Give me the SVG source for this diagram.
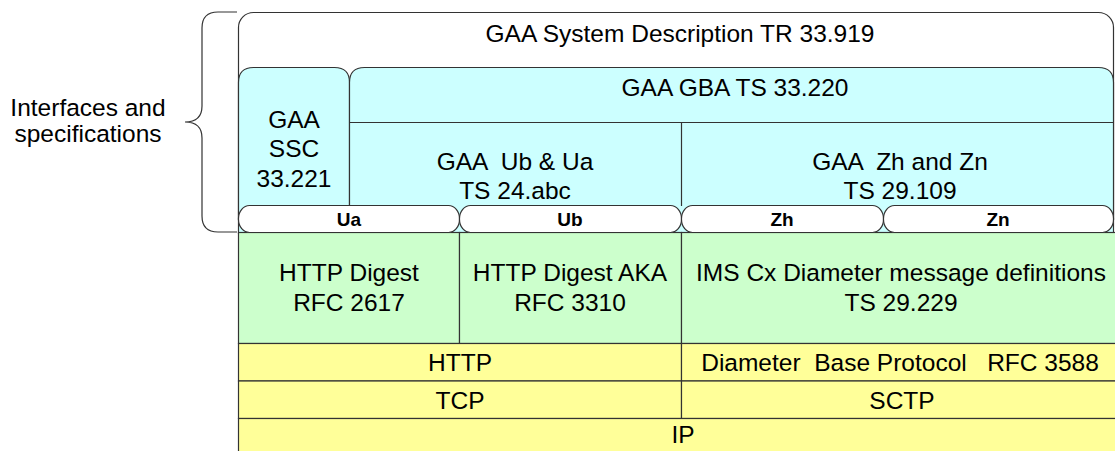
<svg xmlns="http://www.w3.org/2000/svg" width="1115" height="451" viewBox="0 0 1115 451">
<style>
.t{font-family:"Liberation Sans",Arial,sans-serif;font-size:24.5px;fill:#000;text-anchor:middle;white-space:pre}
.p{font-family:"Liberation Sans",Arial,sans-serif;font-size:19px;font-weight:bold;fill:#000;text-anchor:middle}
.s{stroke:#333;stroke-width:1.2}
.cy{fill:#CCFFFF}
.gr{fill:#CCFFCC}
.ye{fill:#FFFF99}
.pill{fill:#FFFFFF;stroke:#333;stroke-width:1.2}
</style>
<rect width="1115" height="451" fill="#FFFFFF"/>
<g id="brace">
<path d="M237,12 H218 Q202,12 202,28 V106 Q202,122 185,122 Q202,122 202,138 V216 Q202,232 218,232 H237" fill="none" stroke="#333" stroke-width="1.2"/>
<text class="t" x="88" y="116">Interfaces and</text>
<text class="t" x="88" y="142">specifications</text>
</g>
<g id="system-description">
<rect class="s" x="238.5" y="12.5" width="875" height="222" rx="15" ry="15" fill="#FFFFFF"/>
<text class="t" x="680" y="42">GAA System Description TR 33.919</text>
</g>
<g id="ssc">
<path class="s cy" d="M238.5,234 V82.5 Q238.5,67.5 253.5,67.5 H334.5 Q349.5,67.5 349.5,82.5 V234"/>
<text class="t" x="294" y="128">GAA</text>
<text class="t" x="294" y="157">SSC</text>
<text class="t" x="294" y="187">33.221</text>
</g>
<g id="gba">
<path class="s cy" d="M349.5,234 V82.5 Q349.5,67.5 364.5,67.5 H1098.5 Q1113.5,67.5 1113.5,82.5 V234"/>
<text class="t" x="735" y="96">GAA GBA TS 33.220</text>
</g>
<g id="ub-ua">
<text class="t" x="515" y="170" xml:space="preserve">GAA  Ub &amp; Ua</text>
<text class="t" x="515" y="199">TS 24.abc</text>
</g>
<g id="zh-zn">
<text class="t" x="900" y="170" xml:space="preserve">GAA  Zh and Zn</text>
<text class="t" x="900" y="199">TS 29.109</text>
</g>
<g id="http-digest">
<rect class="s gr" x="238.5" y="232.5" width="221" height="111"/>
<text class="t" x="349" y="281">HTTP Digest</text>
<text class="t" x="349" y="311">RFC 2617</text>
</g>
<g id="http-digest-aka">
<rect class="s gr" x="459.5" y="232.5" width="222" height="111"/>
<text class="t" x="570" y="281">HTTP Digest AKA</text>
<text class="t" x="570" y="311">RFC 3310</text>
</g>
<g id="ims-cx">
<rect class="s gr" x="681.5" y="232.5" width="440" height="111"/>
<text class="t" x="901" y="281">IMS Cx Diameter message definitions</text>
<text class="t" x="901" y="311">TS 29.229</text>
</g>
<g id="http">
<rect class="s ye" x="238.5" y="343.5" width="443" height="37.5"/>
<text class="t" x="460" y="371">HTTP</text>
</g>
<g id="diameter">
<rect class="s ye" x="681.5" y="343.5" width="440" height="37.5"/>
<text class="t" x="900" y="371" xml:space="preserve">Diameter  Base Protocol   RFC 3588</text>
</g>
<g id="tcp">
<rect class="s ye" x="238.5" y="381" width="443" height="37.5"/>
<text class="t" x="460" y="409">TCP</text>
</g>
<g id="sctp">
<rect class="s ye" x="681.5" y="381" width="440" height="37.5"/>
<text class="t" x="902" y="409">SCTP</text>
</g>
<g id="ip">
<rect class="s ye" x="238.5" y="418.5" width="883" height="40"/>
<text class="t" x="683" y="443">IP</text>
</g>
<g id="connectors">
<line class="s" x1="349.5" y1="122.5" x2="1113.5" y2="122.5"/>
<line class="s" x1="681.5" y1="122.5" x2="681.5" y2="206"/>
</g>
<g id="ua">
<rect class="pill" x="238.5" y="205.5" width="221" height="27" rx="11" ry="13"/>
<text class="p" x="349" y="226">Ua</text>
</g>
<g id="ub">
<rect class="pill" x="459.5" y="205.5" width="222" height="27" rx="11" ry="13"/>
<text class="p" x="570" y="226">Ub</text>
</g>
<g id="zh">
<rect class="pill" x="681.5" y="205.5" width="202" height="27" rx="11" ry="13"/>
<text class="p" x="782" y="226">Zh</text>
</g>
<g id="zn">
<rect class="pill" x="883.5" y="205.5" width="230" height="27" rx="11" ry="13"/>
<text class="p" x="998" y="226">Zn</text>
</g>
</svg>
